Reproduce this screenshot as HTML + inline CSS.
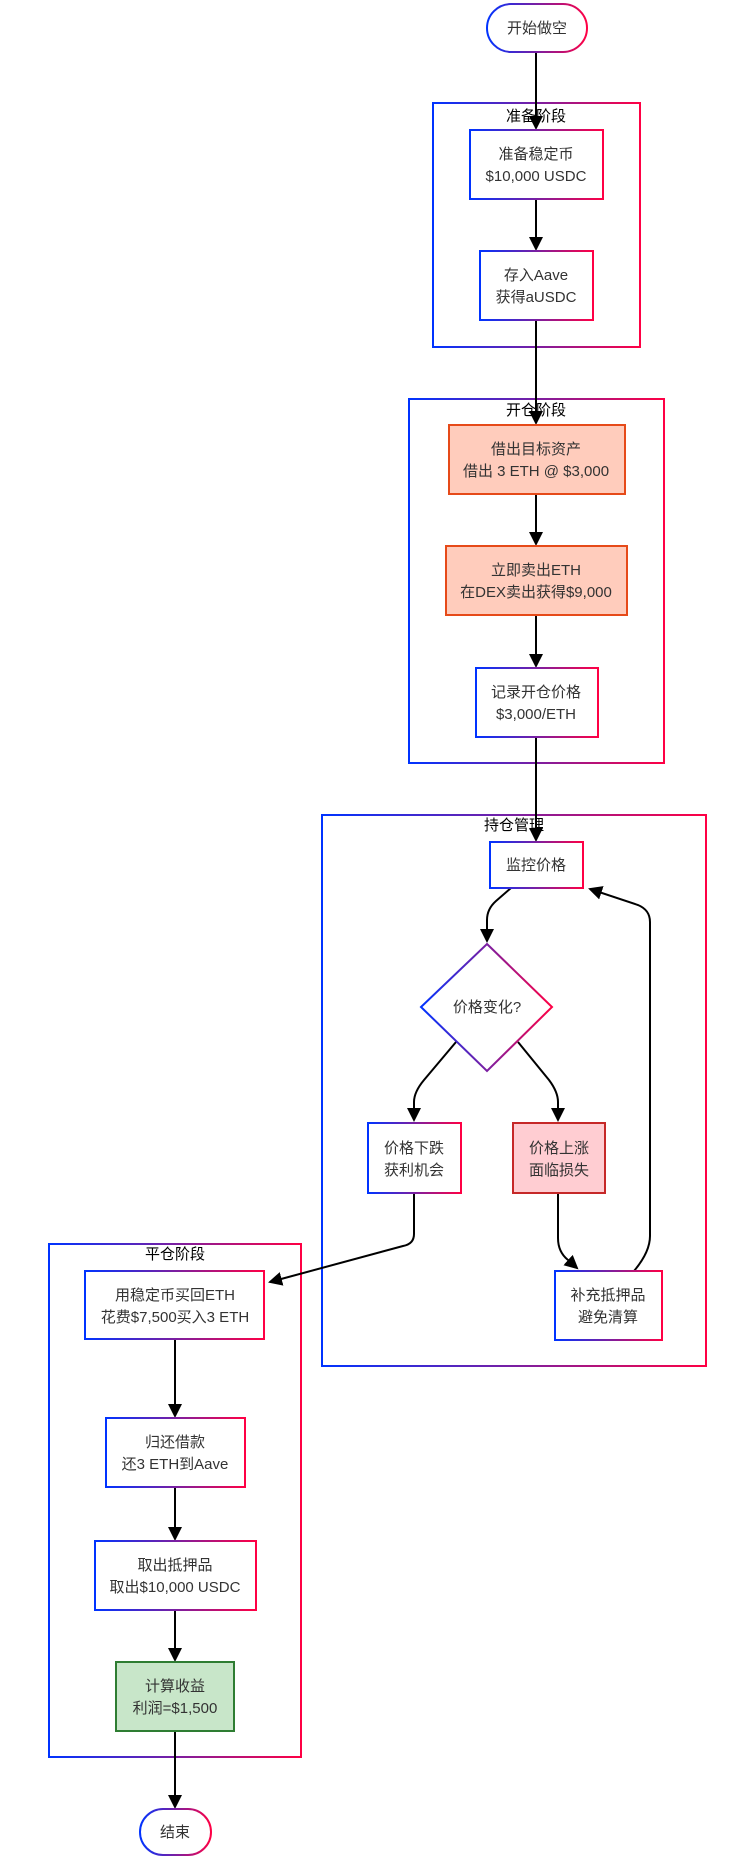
<!DOCTYPE html>
<html><head><meta charset="utf-8"><style>
html,body{margin:0;padding:0;background:#fff;}
svg{display:block;}
text{font-family:"Liberation Sans","Noto Sans CJK SC",sans-serif;}
.t{font-size:15px;fill:#333;text-anchor:middle;}
.ct{font-size:15px;fill:#000;text-anchor:middle;}
.e{fill:none;stroke:#000;stroke-width:2;}
</style></head><body>
<svg width="750" height="1860" viewBox="0 0 750 1860" xmlns="http://www.w3.org/2000/svg">
<defs>
<linearGradient id="g" x1="0" y1="0" x2="1" y2="0"><stop offset="0" stop-color="#0033ff"/><stop offset="0.5" stop-color="#7a1fa2"/><stop offset="1" stop-color="#ff0044"/></linearGradient>
<marker id="a" markerWidth="14" markerHeight="14" refX="12" refY="7" orient="auto" markerUnits="userSpaceOnUse"><path d="M0,0 L14,7 L0,14 z" fill="#000"/></marker>
</defs>
<!-- clusters -->
<rect x="433" y="103" width="207" height="244" fill="none" stroke="url(#g)" stroke-width="2"/>
<text class="ct" x="536" y="121">准备阶段</text>
<rect x="409" y="399" width="255" height="364" fill="none" stroke="url(#g)" stroke-width="2"/>
<text class="ct" x="536" y="415">开仓阶段</text>
<rect x="322" y="815" width="384" height="551" fill="none" stroke="url(#g)" stroke-width="2"/>
<text class="ct" x="514" y="830">持仓管理</text>
<rect x="49" y="1244" width="252" height="513" fill="none" stroke="url(#g)" stroke-width="2"/>
<text class="ct" x="175" y="1259">平仓阶段</text>

<!-- edges -->
<path class="e" d="M536,52 L536,128" marker-end="url(#a)"/>
<path class="e" d="M536,199 L536,249" marker-end="url(#a)"/>
<path class="e" d="M536,320 L536,423" marker-end="url(#a)"/>
<path class="e" d="M536,494 L536,544" marker-end="url(#a)"/>
<path class="e" d="M536,615 L536,666" marker-end="url(#a)"/>
<path class="e" d="M536,737 L536,840" marker-end="url(#a)"/>
<path class="e" d="M511,888 L496,901 Q487,909 487,920 L487,941" marker-end="url(#a)"/>
<path class="e" d="M456,1042 L424,1080 Q414,1092 414,1102 L414,1120" marker-end="url(#a)"/>
<path class="e" d="M518,1042 L549,1080 Q558,1092 558,1102 L558,1120" marker-end="url(#a)"/>
<path class="e" d="M558,1193 L558,1238 Q558,1252 568,1260 L577,1268" marker-end="url(#a)"/>
<path class="e" d="M634,1271 Q650,1252 650,1236 L650,922 Q650,910 638,905 L590,889" marker-end="url(#a)"/>
<path class="e" d="M414,1193 L414,1234 Q414,1244 403,1246 L270,1282" marker-end="url(#a)"/>
<path class="e" d="M175,1339 L175,1416" marker-end="url(#a)"/>
<path class="e" d="M175,1487 L175,1539" marker-end="url(#a)"/>
<path class="e" d="M175,1610 L175,1660" marker-end="url(#a)"/>
<path class="e" d="M175,1731 L175,1807" marker-end="url(#a)"/>

<!-- nodes -->
<rect x="487" y="4" width="100" height="48" rx="24" fill="#fff" stroke="url(#g)" stroke-width="2"/>
<text class="t" x="537" y="33">开始做空</text>

<rect x="470" y="130" width="133" height="69" fill="#fff" stroke="url(#g)" stroke-width="2"/>
<text class="t" x="536" y="159">准备稳定币</text><text class="t" x="536" y="181">$10,000 USDC</text>

<rect x="480" y="251" width="113" height="69" fill="#fff" stroke="url(#g)" stroke-width="2"/>
<text class="t" x="536" y="280">存入Aave</text><text class="t" x="536" y="302">获得aUSDC</text>

<rect x="449" y="425" width="176" height="69" fill="#ffccbc" stroke="#e64a19" stroke-width="2"/>
<text class="t" x="536" y="454">借出目标资产</text><text class="t" x="536" y="476">借出 3 ETH @ $3,000</text>

<rect x="446" y="546" width="181" height="69" fill="#ffccbc" stroke="#e64a19" stroke-width="2"/>
<text class="t" x="536" y="575">立即卖出ETH</text><text class="t" x="536" y="597">在DEX卖出获得$9,000</text>

<rect x="476" y="668" width="122" height="69" fill="#fff" stroke="url(#g)" stroke-width="2"/>
<text class="t" x="536" y="697">记录开仓价格</text><text class="t" x="536" y="719">$3,000/ETH</text>

<rect x="490" y="842" width="93" height="46" fill="#fff" stroke="url(#g)" stroke-width="2"/>
<text class="t" x="536" y="870">监控价格</text>

<polygon points="487,944 552,1007 487,1071 421,1007" fill="#fff" stroke="url(#g)" stroke-width="2"/>
<text class="t" x="487" y="1012">价格变化?</text>

<rect x="368" y="1123" width="93" height="70" fill="#fff" stroke="url(#g)" stroke-width="2"/>
<text class="t" x="414" y="1153">价格下跌</text><text class="t" x="414" y="1175">获利机会</text>

<rect x="513" y="1123" width="92" height="70" fill="#ffcdd2" stroke="#c62828" stroke-width="2"/>
<text class="t" x="559" y="1153">价格上涨</text><text class="t" x="559" y="1175">面临损失</text>

<rect x="555" y="1271" width="107" height="69" fill="#fff" stroke="url(#g)" stroke-width="2"/>
<text class="t" x="608" y="1300">补充抵押品</text><text class="t" x="608" y="1322">避免清算</text>

<rect x="85" y="1271" width="179" height="68" fill="#fff" stroke="url(#g)" stroke-width="2"/>
<text class="t" x="175" y="1300">用稳定币买回ETH</text><text class="t" x="175" y="1322">花费$7,500买入3 ETH</text>

<rect x="106" y="1418" width="139" height="69" fill="#fff" stroke="url(#g)" stroke-width="2"/>
<text class="t" x="175" y="1447">归还借款</text><text class="t" x="175" y="1469">还3 ETH到Aave</text>

<rect x="95" y="1541" width="161" height="69" fill="#fff" stroke="url(#g)" stroke-width="2"/>
<text class="t" x="175" y="1570">取出抵押品</text><text class="t" x="175" y="1592">取出$10,000 USDC</text>

<rect x="116" y="1662" width="118" height="69" fill="#c8e6c9" stroke="#2e7d32" stroke-width="2"/>
<text class="t" x="175" y="1691">计算收益</text><text class="t" x="175" y="1713">利润=$1,500</text>

<rect x="140" y="1809" width="71" height="46" rx="23" fill="#fff" stroke="url(#g)" stroke-width="2"/>
<text class="t" x="175" y="1837">结束</text>
</svg>
</body></html>
